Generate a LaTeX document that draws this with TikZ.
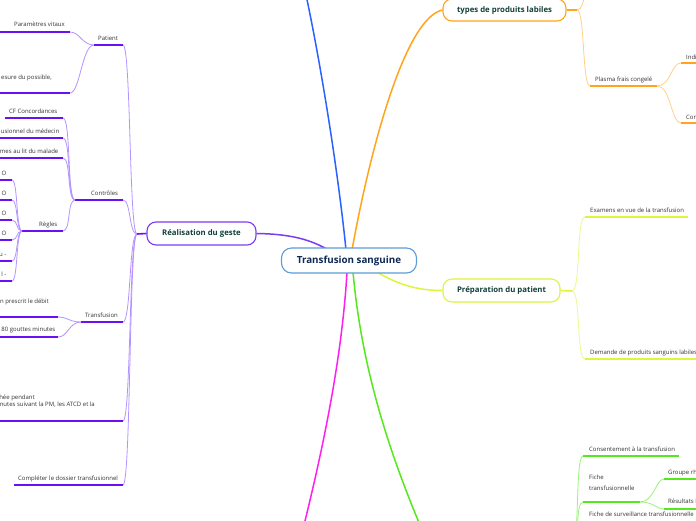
\documentclass[tikz,border=0pt]{standalone}
\usepackage{fontspec}
\setmainfont{Open Sans}
\definecolor{cBlue}{HTML}{2962FF}
\definecolor{cOrange}{HTML}{FFA41B}
\definecolor{cOrangeL}{HTML}{FFD08A}
\definecolor{cYellow}{HTML}{DDF53A}
\definecolor{cYellowL}{HTML}{EAFA8C}
\definecolor{cGreen}{HTML}{55E81E}
\definecolor{cGreenL}{HTML}{9AF27A}
\definecolor{cMagenta}{HTML}{FF1EF0}
\definecolor{cPurple}{HTML}{7B3CF0}
\definecolor{cPurpleU}{HTML}{6A10F5}
\definecolor{cPurpleL}{HTML}{B593FF}
\definecolor{cNavy}{HTML}{0E2A55}
\definecolor{cTeal}{HTML}{12403A}
\definecolor{cCentral}{HTML}{5D9CD8}
\definecolor{cText}{HTML}{333333}
\tikzset{
  leaf/.style={font=\fontsize{6}{7}\selectfont, text=cText, inner sep=0pt},
  mainnode/.style={draw, rounded corners=9pt, line width=1.1pt, fill=white, text=cTeal,
     font=\fontsize{7.8}{9}\selectfont\bfseries, inner sep=0pt},
  central/.style={draw=cCentral, rounded corners=10pt, line width=1.1pt, fill=white, text=cNavy,
     font=\fontsize{9.8}{11}\selectfont\bfseries, inner sep=0pt, minimum width=135pt, minimum height=25pt},
  mainline/.style={line width=1.5pt},
  uP/.style={cPurpleU, line width=1.6pt}, kP/.style={cPurpleL, line width=0.8pt},
  uO/.style={cOrange, line width=1.6pt}, kO/.style={cOrangeL, line width=0.8pt},
  uY/.style={cYellow, line width=1.6pt}, kY/.style={cYellowL, line width=0.8pt},
  uG/.style={cGreen, line width=1.6pt}, kG/.style={cGreenL, line width=0.8pt},
}
\begin{document}
\begin{tikzpicture}[x=1pt,y=-1pt]
\useasboundingbox (0,0) rectangle (696,520);
\clip (0,0) rectangle (696,520);
\fill[white] (0,0) rectangle (696,520);

% ---------- main connectors ----------
\coordinate (bl-s) at (346,250); \coordinate (bl-e) at (306,-5);
\coordinate (or-s) at (352,250);
\coordinate (ye-s) at (375,271);
\coordinate (gr-s) at (353,272); \coordinate (gr-e) at (420,525);
\coordinate (mg-s) at (347,272); \coordinate (mg-e) at (304,525);
\coordinate (pu-s) at (330,251);

\node[mainnode, draw=cPurple, minimum width=109pt, minimum height=23pt] (rg) at (201.5,233.5) {Réalisation du geste};
\node[mainnode, draw=cOrange, minimum width=123pt, minimum height=22pt] (tp) at (504.5,10) {types de produits labiles};
\node[mainnode, draw=cYellow, minimum width=117pt, minimum height=23pt] (pp) at (501.5,290.5) {Préparation du patient};

\draw[mainline, cBlue] (bl-s) .. controls (338,170) and (320,60) .. (bl-e);
\draw[mainline, cOrange] (or-s) .. controls (370,150) and (405,18) .. (tp.west);
\draw[mainline, cYellow] (ye-s) .. controls (400,286) and (420,290.5) .. (pp.west);
\draw[mainline, cGreen] (gr-s) .. controls (360,350) and (380,430) .. (gr-e);
\draw[mainline, cMagenta] (mg-s) .. controls (343,340) and (330,420) .. (mg-e);
\draw[mainline, cPurple] (rg.east) .. controls (292,234) and (312,240) .. (pu-s);

\node[central] (c) at (349,260.5) {Transfusion sanguine};

% ---------- purple: Réalisation du geste ----------
\coordinate (rg-b) at (137,234);
\draw[uP] (rg.west) -- (rg-b);

\coordinate (pat-a) at (94,45);  \coordinate (pat-b) at (123,45);
\coordinate (ctl-a) at (75,200); \coordinate (ctl-b) at (123,200);
\coordinate (trf-a) at (81,322); \coordinate (trf-b) at (123,322);
\coordinate (lng-a) at (-5,421); \coordinate (lng-b) at (123,421);
\coordinate (cmp-a) at (14,485); \coordinate (cmp-b) at (123,485);
\foreach \n in {pat,ctl,trf,lng,cmp}{
  \draw[kP] (rg-b) .. controls +(-8,0) and +(8,0) .. (\n-b);
  \draw[uP] (\n-a) -- (\n-b);
}
\node[leaf, anchor=base west] (pat) at (98,40) {Patient};
\node[leaf, anchor=base west] (ctl) at (91,195) {Contrôles};
\node[leaf, anchor=base west] (trf) at (85,317) {Transfusion};
\node[leaf, anchor=base east] (lng1) at (35,399) {hée pendant};
\node[leaf, anchor=base east] (lng2) at (95,406) {nutes suivant la PM, les ATCD et la};
\node[leaf, anchor=base west] (cmp) at (18,480) {Compléter le dossier transfusionnel};

% Patient children
\coordinate (pv-a) at (-5,32); \coordinate (pv-b) at (70,32);
\coordinate (ms-a) at (-5,93); \coordinate (ms-b) at (70,93);
\foreach \n in {pv,ms}{
  \draw[kP] (pat-a) .. controls +(-12,0) and +(10,0) .. (\n-b);
  \draw[uP] (\n-a) -- (\n-b);
}
\node[leaf, anchor=base west] (pv) at (14,26) {Paramètres vitaux};
\node[leaf, anchor=base east] (ms) at (52,79) {esure du possible,};

% Contrôles children
\coordinate (cf-a) at (5,118);   \coordinate (cf-b) at (63,118);
\coordinate (us-a) at (-5,138);  \coordinate (us-b) at (63,138);
\coordinate (lm-a) at (-5,158);  \coordinate (lm-b) at (63,158);
\coordinate (rgl-a) at (22,231); \coordinate (rgl-b) at (63,231);
\foreach \n in {cf,us,lm,rgl}{
  \draw[kP] (ctl-a) .. controls +(-8,0) and +(8,0) .. (\n-b);
  \draw[uP] (\n-a) -- (\n-b);
}
\node[leaf, anchor=base west] (cf) at (9,113) {CF Concordances};
\node[leaf, anchor=base east] (us) at (59.5,133) {usionnel du médecin};
\node[leaf, anchor=base east] (lm) at (58.5,153) {mes au lit du malade};
\node[leaf, anchor=base west] (rgl) at (39,226) {Règles};

% Règles children
\foreach \n/\yy/\t in {r1/180/O, r2/200/O, r3/220/O, r4/240/O, r5/261/{u -}, r6/281/{l -}}{
  \coordinate (\n-a) at (-5,\yy); \coordinate (\n-b) at (12,\yy);
  \draw[kP] (rgl-a) .. controls +(-6,0) and +(6,0) .. (\n-b);
  \draw[uP] (\n-a) -- (\n-b);
  \node[leaf, anchor=base east] (\n) at (6.5,\yy-5) {\t};
}

% Transfusion children
\coordinate (pd-a) at (-5,317); \coordinate (pd-b) at (58,317);
\coordinate (gt-a) at (-5,337); \coordinate (gt-b) at (58,337);
\foreach \n in {pd,gt}{
  \draw[kP] (trf-a) .. controls +(-12,0) and +(10,0) .. (\n-b);
  \draw[uP] (\n-a) -- (\n-b);
}
\node[leaf, anchor=base east] (pd) at (49,303) {n prescrit le débit};
\node[leaf, anchor=base east] (gt) at (55.5,331) {80 gouttes minutes};

% ---------- orange: types de produits labiles ----------
\coordinate (tp-b) at (577,10);
\draw[uO] (tp.east) -- (tp-b);
\coordinate (up-o) at (586,-4);
\draw[kO] (tp-b) .. controls +(6,0) and +(-4,4) .. (up-o);
\coordinate (pl-a) at (590,86); \coordinate (pl-b) at (657,86);
\draw[kO] (tp-b) .. controls +(8,0) and +(-8,0) .. (pl-a);
\draw[uO] (pl-a) -- (pl-b);
\node[leaf, anchor=base west] (pl) at (595,81) {Plasma frais congelé};
\coordinate (in-a) at (681,63);  \coordinate (in-b) at (700,63);
\coordinate (co-a) at (681,123); \coordinate (co-b) at (700,123);
\foreach \n in {in,co}{
  \draw[kO] (pl-b) .. controls +(14,0) and +(-10,0) .. (\n-a);
  \draw[uO] (\n-a) -- (\n-b);
}
\node[leaf, anchor=base west] (in) at (686,59) {Indi};
\node[leaf, anchor=base west] (co) at (686,119) {Con};

% ---------- yellow: Préparation du patient ----------
\coordinate (pp-b) at (572,291);
\draw[uY] (pp.east) -- (pp-b);
\coordinate (ex-a) at (585,217); \coordinate (ex-b) at (688,217);
\coordinate (dm-a) at (585,359); \coordinate (dm-b) at (700,359);
\foreach \n in {ex,dm}{
  \draw[kY] (pp-b) .. controls +(9,0) and +(-9,0) .. (\n-a);
  \draw[uY] (\n-a) -- (\n-b);
}
\node[leaf, anchor=base west] (ex) at (590,212) {Examens en vue de la transfusion};
\node[leaf, anchor=base west] (dm) at (590,354) {Demande de produits sanguins labiles};

% ---------- green ----------
\coordinate (gp) at (572,545);
\coordinate (cs-a) at (583,456); \coordinate (cs-b) at (679,456);
\coordinate (ft-a) at (583,502); \coordinate (ft-b) at (640,502);
\coordinate (fs-a) at (583,523); \coordinate (fs-b) at (700,523);
\foreach \n in {cs,ft,fs}{
  \draw[kG] (gp) .. controls +(8,0) and +(-8,0) .. (\n-a);
  \draw[uG] (\n-a) -- (\n-b);
}
\node[leaf, anchor=base west] (cs) at (589,451) {Consentement à la transfusion};
\node[leaf, anchor=base west] (ft1) at (589,479.5) {Fiche};
\node[leaf, anchor=base west] (ft2) at (589,490.5) {transfusionnelle};
\node[leaf, anchor=base west] (fs) at (589,516) {Fiche de surveillance transfusionnelle};
\coordinate (gh-a) at (664,479); \coordinate (gh-b) at (700,479);
\coordinate (rs-a) at (664,509); \coordinate (rs-b) at (700,509);
\foreach \n in {gh,rs}{
  \draw[kG] (ft-b) .. controls +(14,0) and +(-8,0) .. (\n-a);
  \draw[uG] (\n-a) -- (\n-b);
}
\node[leaf, anchor=base west] (gh) at (668,474) {Groupe rh};
\node[leaf, anchor=base west] (rs) at (668,503) {Résultats I};
\end{tikzpicture}
\end{document}
